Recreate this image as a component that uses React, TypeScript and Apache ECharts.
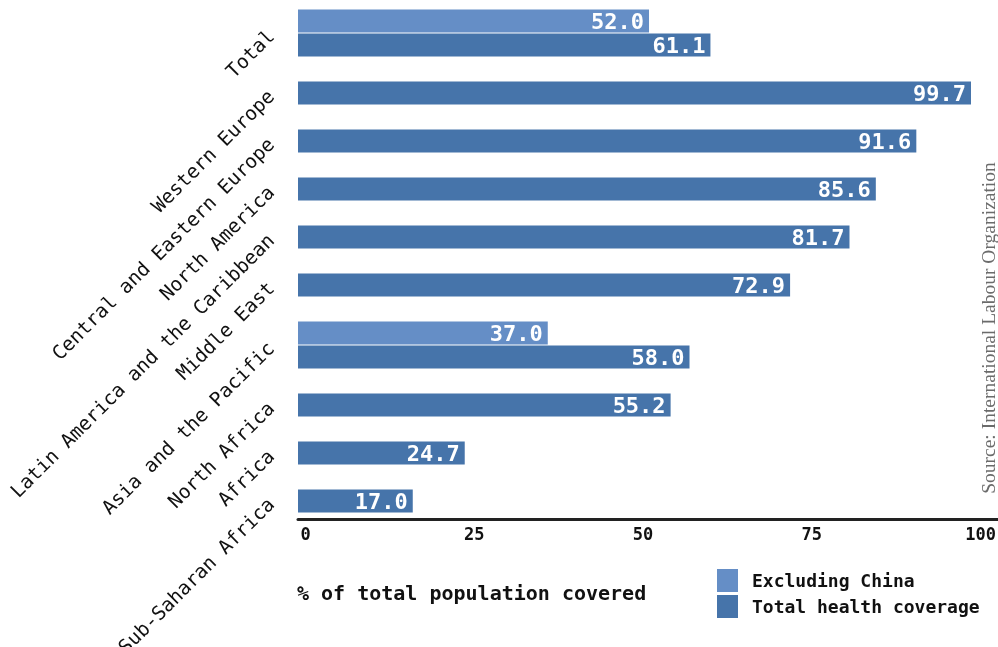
import React, { useEffect, useRef } from "react";
import * as echarts from "echarts";

const categories = [
  "Total",
  "Western Europe",
  "Central and Eastern Europe",
  "North America",
  "Latin America and the Caribbean",
  "Middle East",
  "Asia and the Pacific",
  "North Africa",
  "Africa",
  "Sub-Saharan Africa",
];
const totalCoverage = [61.1, 99.7, 91.6, 85.6, 81.7, 72.9, 58.0, 55.2, 24.7, 17.0];
const excludingChina: (number | null)[] = [52.0, null, null, null, null, null, 37.0, null, null, null];
const seriesNames = ["Excluding China", "Total health coverage"];
const xTickStep = 25;
const sourceText = "Source: International Labour Organization";

// Build fine-grained category slots so two-bar rows take more room
function buildSlots() {
  let pos = 1;
  let last = 0;
  const labelAt: Record<number, string> = {};
  const exclAt: Record<number, number> = {};
  const totAt: Record<number, number> = {};
  categories.forEach((c, i) => {
    const ex = excludingChina[i];
    if (ex != null) {
      exclAt[pos] = ex;
      labelAt[pos + 1] = c;
      totAt[pos + 2] = totalCoverage[i];
      last = pos + 2;
    } else {
      labelAt[pos] = c;
      totAt[pos] = totalCoverage[i];
      last = pos;
    }
    pos = last + 4;
  });
  const n = last + 2;
  const labels: string[] = [];
  const exData: any[] = [];
  const totData: any[] = [];
  for (let j = 0; j < n; j++) {
    labels.push(labelAt[j] ?? "");
    exData.push(exclAt[j] ?? "-");
    totData.push(totAt[j] ?? "-");
  }
  return { labels, exData, totData };
}

const MONO = "DejaVu Sans Mono";

export default function App() {
  const ref = useRef<HTMLDivElement>(null);
  useEffect(() => {
    if (!ref.current) return;
    const chart = echarts.init(ref.current, null, { renderer: "svg" });
    const { labels, exData, totData } = buildSlots();
    const barLabel = {
      show: true,
      position: "insideRight",
      distance: 5,
      color: "#ffffff",
      fontFamily: MONO,
      fontWeight: "bold",
      fontSize: 22,
      formatter: (p: any) => Number(p.value).toFixed(1),
    };
    chart.setOption({
      animation: false,
      grid: {
        left: 298,
        right: 0,
        top: 3,
        bottom: 128,
        containLabel: false,
        outerBoundsMode: "none",
      },
      title: {
        text: "% of total population covered",
        left: 297,
        top: 583,
        padding: 0,
        textStyle: { fontFamily: MONO, fontWeight: "bold", fontSize: 20, color: "#111" },
      },
      legend: {
        orient: "vertical",
        left: 717,
        top: 569,
        padding: 0,
        itemWidth: 21,
        itemHeight: 23,
        itemGap: 3,
        icon: "rect",
        data: seriesNames,
        textStyle: {
          fontFamily: MONO,
          fontWeight: "bold",
          fontSize: 18,
          color: "#111",
          padding: [0, 0, 0, 9],
        },
      },
      xAxis: {
        type: "value",
        min: 0,
        max: 103.7,
        interval: xTickStep,
        axisLine: { show: true, lineStyle: { color: "#222", width: 3 } },
        axisTick: { show: false },
        splitLine: { show: false },
        axisLabel: {
          showMaxLabel: false,
          margin: 6,
          fontFamily: MONO,
          fontWeight: "bold",
          fontSize: 17,
          color: "#111",
          padding: [0, 0, 0, 15],
        },
      },
      yAxis: {
        type: "category",
        inverse: true,
        data: labels,
        axisLine: { show: false },
        axisTick: { show: false },
        splitLine: { show: false },
        axisLabel: {
          interval: 0,
          rotate: 45,
          margin: 27,
          fontFamily: MONO,
          fontSize: 19.5,
          color: "#111",
        },
      },
      graphic: [
        {
          type: "text",
          x: 988,
          y: 328,
          rotation: Math.PI / 2,
          style: {
            text: sourceText,
            fontFamily: "Liberation Serif",
            fontSize: 19.5,
            fill: "#6b6b6b",
            textAlign: "center",
            textVerticalAlign: "middle",
          },
        },
      ],
      series: [
        {
          name: seriesNames[0],
          type: "bar",
          data: exData,
          barWidth: 23,
          barGap: "-100%",
          itemStyle: { color: "#658ec6" },
          label: barLabel,
        },
        {
          name: seriesNames[1],
          type: "bar",
          data: totData,
          barWidth: 23,
          barGap: "-100%",
          itemStyle: { color: "#4674aa" },
          label: barLabel,
        },
      ],
    });
    return () => chart.dispose();
  }, []);
  return (
    <div
      ref={ref}
      style={{ position: "fixed", left: 0, top: 0, width: 998, height: 647 }}
    />
  );
}
